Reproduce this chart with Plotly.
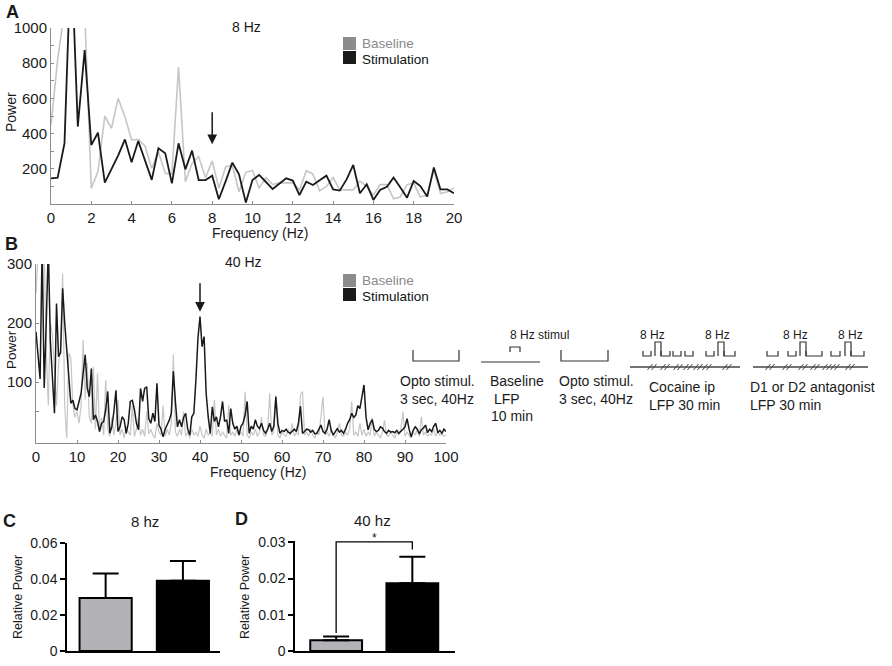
import plotly.graph_objects as go

# ---------------- data ----------------
freq_a = [0, 0.33, 0.67, 1, 1.33, 1.67, 2, 2.33, 2.67, 3,
          3.33, 3.67, 4, 4.33, 4.67, 5, 5.33, 5.67, 6, 6.33,
          6.67, 7, 7.33, 7.67, 8, 8.33, 8.67, 9, 9.33, 9.67,
          10, 10.33, 10.67, 11, 11.33, 11.67, 12, 12.33, 12.67, 13,
          13.33, 13.67, 14, 14.33, 14.67, 15, 15.33, 15.67, 16, 16.33,
          16.67, 17, 17.33, 17.67, 18, 18.33, 18.67, 19, 19.33, 19.67,
          20]
baseline_a = [450, 820, 1100, 1400, 1300, 1100, 89, 184, 500, 430,
              600, 496, 364, 367, 328, 203, 297, 174, 170, 776,
              127, 230, 269, 150, 244, 90, 212, 220, 70, 180,
              190, 90, 150, 110, 120, 120, 120, 80, 189, 170,
              75, 100, 150, 80, 80, 80, 130, 100, 50, 110,
              110, 30, 40, 110, 120, 40, 50, 190, 60, 70,
              90]
stim_a = [146, 150, 345, 1450, 440, 875, 335, 405, 121, 195,
          275, 367, 237, 358, 250, 137, 316, 288, 117, 345,
          197, 303, 136, 136, 161, 27, 130, 235, 169, 8,
          136, 165, 125, 85, 115, 146, 133, 51, 127, 108,
          135, 161, 83, 76, 140, 222, 61, 112, 23, 80,
          98, 150, 95, 36, 131, 102, 42, 208, 83, 83,
          61]

freq_b = [0, 0.5, 1, 1.5, 2, 2.5, 3, 3.5, 4, 4.5,
          5, 5.5, 6, 6.5, 7, 7.5, 8, 8.5, 9, 9.5,
          10, 10.5, 11, 11.5, 12, 12.5, 13, 13.5, 14, 14.5,
          15, 15.5, 16, 16.5, 17, 17.5, 18, 18.5, 19, 19.5,
          20, 20.5, 21, 21.5, 22, 22.5, 23, 23.5, 24, 24.5,
          25, 25.5, 26, 26.5, 27, 27.5, 28, 28.5, 29, 29.5,
          30, 30.5, 31, 31.5, 32, 32.5, 33, 33.5, 34, 34.5,
          35, 35.5, 36, 36.5, 37, 37.5, 38, 38.5, 39, 39.5,
          40, 40.5, 41, 41.5, 42, 42.5, 43, 43.5, 44, 44.5,
          45, 45.5, 46, 46.5, 47, 47.5, 48, 48.5, 49, 49.5,
          50, 50.5, 51, 51.5, 52, 52.5, 53, 53.5, 54, 54.5,
          55, 55.5, 56, 56.5, 57, 57.5, 58, 58.5, 59, 59.5,
          60, 60.5, 61, 61.5, 62, 62.5, 63, 63.5, 64, 64.5,
          65, 65.5, 66, 66.5, 67, 67.5, 68, 68.5, 69, 69.5,
          70, 70.5, 71, 71.5, 72, 72.5, 73, 73.5, 74, 74.5,
          75, 75.5, 76, 76.5, 77, 77.5, 78, 78.5, 79, 79.5,
          80, 80.5, 81, 81.5, 82, 82.5, 83, 83.5, 84, 84.5,
          85, 85.5, 86, 86.5, 87, 87.5, 88, 88.5, 89, 89.5,
          90, 90.5, 91, 91.5, 92, 92.5, 93, 93.5, 94, 94.5,
          95, 95.5, 96, 96.5, 97, 97.5, 98, 98.5, 99, 99.5,
          100]
baseline_b = [250, 320, 330, 340, 320, 150, 60, 200, 180, 120,
              60, 130, 160, 284, 60, 5, 149, 140, 60, 40,
              50, 30, 60, 171, 70, 132, 40, 30, 126, 20,
              115, 15, 40, 10, 103, 20, 8, 40, 10, 30,
              69, 10, 20, 5, 25, 15, 10, 60, 8, 20,
              40, 10, 20, 8, 50, 12, 20, 10, 5, 30,
              15, 10, 60, 8, 20, 10, 30, 146, 15, 8,
              20, 10, 50, 8, 15, 5, 20, 10, 15, 8,
              25, 10, 5, 20, 10, 15, 8, 70, 10, 20,
              8, 15, 10, 5, 60, 10, 15, 8, 20, 10,
              15, 8, 84, 10, 5, 15, 10, 20, 8, 15,
              40, 10, 8, 20, 81, 10, 15, 78, 10, 5,
              15, 10, 8, 20, 10, 30, 8, 15, 10, 78,
              84, 10, 15, 8, 20, 10, 5, 15, 10, 40,
              75, 10, 15, 8, 20, 10, 5, 15, 30, 10,
              8, 15, 10, 20, 67, 10, 15, 8, 30, 10,
              20, 8, 15, 10, 40, 8, 15, 10, 5, 15,
              35, 10, 8, 15, 10, 5, 15, 10, 20, 50,
              8, 15, 10, 5, 15, 10, 20, 8, 41, 10,
              15, 8, 12, 10, 20, 8, 15, 10, 12, 8,
              10]
stim_b = [185, 140, 105, 330, 90, 200, 330, 170, 103, 47,
          233, 143, 150, 259, 200, 149, 110, 64, 69, 55,
          53, 70, 81, 115, 146, 90, 75, 123, 36, 44,
          33, 16, 30, 33, 53, 84, 13, 24, 50, 86,
          16, 24, 41, 36, 13, 30, 67, 69, 53, 30,
          19, 89, 67, 89, 92, 38, 30, 47, 33, 98,
          27, 20, 7, 20, 27, 35, 47, 118, 67, 24,
          36, 24, 40, 47, 20, 10, 41, 47, 103, 174,
          211, 160, 177, 81, 41, 13, 58, 33, 41, 24,
          41, 67, 33, 36, 13, 55, 30, 20, 25, 10,
          25, 30, 44, 67, 13, 25, 20, 36, 25, 21,
          30, 18, 13, 20, 30, 16, 25, 75, 30, 13,
          18, 16, 20, 15, 13, 16, 20, 16, 30, 59,
          13, 16, 20, 19, 15, 18, 12, 13, 20, 27,
          16, 13, 20, 36, 18, 10, 16, 21, 15, 18,
          13, 20, 30, 36, 47, 40, 44, 60, 55, 75,
          95, 40, 19, 30, 36, 20, 16, 18, 24, 22,
          16, 13, 18, 15, 16, 14, 18, 13, 16, 20,
          24, 38, 20, 7, 18, 24, 20, 12, 19, 22,
          27, 14, 20, 16, 25, 30, 14, 18, 13, 20,
          16]

groups = ["Baseline", "Stimulation"]
group_pos = [0, 1]
rel_8hz = [0.0295, 0.039]
rel_8hz_sem = [0.0135, 0.011]
rel_40hz = [0.003, 0.0187]
rel_40hz_sem = [0.001, 0.0073]
sig_x = [0, 0, 1, 1]
sig_y = [0.005, 0.0301, 0.0301, 0.028]

ticks_a_x = [0, 2, 4, 6, 8, 10, 12, 14, 16, 18, 20]
ticks_a_y = [200, 400, 600, 800, 1000]
minor_a_y = [100, 300, 500, 700, 900]
ticks_b_x = [0, 10, 20, 30, 40, 50, 60, 70, 80, 90, 100]
ticks_b_y = [100, 200, 300]
minor_b_y = [50]
ticks_c_y = [0, 0.02, 0.04, 0.06]
ticktext_c_y = ["0", "0.02", "0.04", "0.06"]
ticks_d_y = [0, 0.01, 0.02, 0.03]
ticktext_d_y = ["0", "0.01", "0.02", "0.03"]

# ---------------- style ----------------
FONT = "Liberation Sans, Arial, sans-serif"
W, H = 892, 666
LIGHT = "#c6c6c6"
DARK = "#1a1a1a"
BAR_GRAY = "#b3b3b7"
AXGRAY = "#8c8c8c"


def px(x):
    return x / W


def py(y):
    return 1 - y / H


fig = go.Figure()

# Panel A
fig.add_trace(go.Scatter(x=freq_a, y=baseline_a, xaxis="x", yaxis="y", mode="lines",
                         line=dict(color=LIGHT, width=1.6), name=groups[0],
                         showlegend=False, hoverinfo="skip"))
fig.add_trace(go.Scatter(x=freq_a, y=stim_a, xaxis="x", yaxis="y", mode="lines",
                         line=dict(color=DARK, width=1.8), name=groups[1],
                         showlegend=False, hoverinfo="skip"))
# Panel B
fig.add_trace(go.Scatter(x=freq_b, y=baseline_b, xaxis="x2", yaxis="y2", mode="lines",
                         line=dict(color=LIGHT, width=1.2), name=groups[0],
                         showlegend=False, hoverinfo="skip"))
fig.add_trace(go.Scatter(x=freq_b, y=stim_b, xaxis="x2", yaxis="y2", mode="lines",
                         line=dict(color=DARK, width=1.5), name=groups[1],
                         showlegend=False, hoverinfo="skip"))
# Panel C
fig.add_trace(go.Bar(x=group_pos, y=rel_8hz, xaxis="x3", yaxis="y3", width=0.675,
                     marker=dict(color=[BAR_GRAY, "black"], line=dict(color="black", width=2)),
                     error_y=dict(type="data", array=rel_8hz_sem, arrayminus=[0, 0],
                                  symmetric=False, color="black", thickness=2, width=13),
                     showlegend=False, hovertext=groups))
# Panel D
fig.add_trace(go.Bar(x=group_pos, y=rel_40hz, xaxis="x4", yaxis="y4", width=0.68,
                     marker=dict(color=[BAR_GRAY, "black"], line=dict(color="black", width=2)),
                     error_y=dict(type="data", array=rel_40hz_sem, arrayminus=[0, 0],
                                  symmetric=False, color="black", thickness=2, width=13),
                     showlegend=False, hovertext=groups))
fig.add_trace(go.Scatter(x=sig_x, y=sig_y, xaxis="x4", yaxis="y4", mode="lines",
                         line=dict(color="black", width=1.3), showlegend=False,
                         hoverinfo="skip", cliponaxis=False))

ab_common = dict(showgrid=False, zeroline=False, showline=True, linecolor=AXGRAY,
                 linewidth=1, ticks="inside", ticklen=3, tickcolor=AXGRAY,
                 automargin=False,
                 tickfont=dict(family=FONT, size=15, color="#1a1a1a"))
cd_common = dict(showgrid=False, zeroline=False, showline=True, linecolor="black",
                 linewidth=1.5, automargin=False)

fig.update_layout(
    width=W, height=H, margin=dict(l=0, r=0, t=0, b=0, pad=0, autoexpand=False),
    paper_bgcolor="white", plot_bgcolor="white",
    font=dict(family=FONT, color="#1a1a1a"),
    xaxis=dict(domain=[px(51), px(454)], range=[0, 20], anchor="y",
               tickvals=ticks_a_x, **ab_common),
    yaxis=dict(domain=[py(204), py(28)], range=[0, 1000], anchor="x",
               tickvals=ticks_a_y,
               minor=dict(tickvals=minor_a_y, ticks="inside", ticklen=3, tickcolor=AXGRAY),
               **ab_common),
    xaxis2=dict(domain=[px(36), px(446)], range=[0, 100], anchor="y2",
                tickvals=ticks_b_x, **ab_common),
    yaxis2=dict(domain=[py(443), py(264)], range=[-3.4, 300], anchor="x2",
                tickvals=ticks_b_y,
                minor=dict(tickvals=minor_b_y, ticks="inside", ticklen=3, tickcolor=AXGRAY),
                **ab_common),
    xaxis3=dict(domain=[px(67), px(220)], range=[-0.5, 1.48], anchor="y3",
                showticklabels=False, ticks="", **cd_common),
    yaxis3=dict(domain=[py(651), py(543)], range=[0, 0.06], anchor="x3",
                tickvals=ticks_c_y, ticktext=ticktext_c_y, ticks="outside", ticklen=5,
                tickwidth=1.5, tickcolor="black",
                tickfont=dict(family=FONT, size=14, color="#1a1a1a"), **cd_common),
    xaxis4=dict(domain=[px(295), px(455)], range=[-0.54, 1.56], anchor="y4",
                showticklabels=False, ticks="", **cd_common),
    yaxis4=dict(domain=[py(651), py(541)], range=[0, 0.03035], anchor="x4",
                tickvals=ticks_d_y, ticktext=ticktext_d_y, ticks="outside", ticklen=5,
                tickwidth=1.5, tickcolor="black",
                tickfont=dict(family=FONT, size=14, color="#1a1a1a"), **cd_common),
)

annotations = []


def ann(text, x, y, size=14, xanchor="center", color="#1a1a1a", bold=False, angle=0):
    if bold:
        text = "<b>" + text + "</b>"
    annotations.append(dict(text=text, x=px(x), y=py(y), xref="paper", yref="paper",
                            xanchor=xanchor, yanchor="middle", showarrow=False,
                            textangle=angle, font=dict(family=FONT, size=size, color=color)))


# panel letters
ann("A", 12, 12, size=18, bold=True)
ann("B", 11, 244, size=18, bold=True)
ann("C", 9, 521, size=18, bold=True)
ann("D", 241, 519, size=18, bold=True)
# titles
ann("8 Hz", 246, 27, size=14)
ann("40 Hz", 243, 262, size=14)
ann("8 hz", 145, 521, size=15)
ann("40 hz", 372, 520, size=15)
# axis titles
ann("Power", 11, 112, size=14, angle=-90)
ann("Power", 11, 350, size=13.5, angle=-90)
ann("Frequency (Hz)", 260, 233, size=14)
ann("Frequency (Hz)", 258, 472, size=14)
ann("Relative Power", 18, 597, size=12.5, angle=-90)
ann("Relative Power", 245, 597, size=12.5, angle=-90)
# legends
for yb, ys in [(43, 59), (280, 296)]:
    ann("Baseline", 360, yb, size=13.5, xanchor="left", color="#8a8a8a")
    ann("Stimulation", 360, ys, size=13.5, xanchor="left", color="#111111")
# timeline diagram texts
ann("Opto stimul.", 398, 381, size=14, xanchor="left")
ann("3 sec, 40Hz", 398, 399, size=14, xanchor="left")
ann("8 Hz stimul", 539, 335, size=12)
ann("Baseline", 488, 381, size=14, xanchor="left")
ann("LFP", 492, 399, size=14, xanchor="left")
ann("10 min", 489, 416, size=14, xanchor="left")
ann("Opto stimul.", 557, 381, size=14, xanchor="left")
ann("3 sec, 40Hz", 557, 399, size=14, xanchor="left")
for xc in [652, 717, 795, 850]:
    ann("8 Hz", xc, 335, size=12)
ann("Cocaine ip", 647, 387, size=14, xanchor="left")
ann("LFP 30 min", 647, 405, size=14, xanchor="left")
ann("D1 or D2 antagonist", 748, 387, size=14, xanchor="left")
ann("LFP 30 min", 748, 405, size=14, xanchor="left")

# significance star (x on the bar axis, y in page space just above the bracket)
annotations.append(dict(text="*", x=0.5, y=py(538), xref="x4", yref="paper",
                        xanchor="center", yanchor="middle", showarrow=False,
                        font=dict(family=FONT, size=12, color="#1a1a1a")))
# arrows
annotations.append(dict(text="", x=8, y=340, xref="x", yref="y", ax=8, ay=530,
                        axref="x", ayref="y", showarrow=True, arrowhead=2, arrowsize=1.3,
                        arrowwidth=1.5, arrowcolor=DARK))
annotations.append(dict(text="", x=40, y=219, xref="x2", yref="y2", ax=40, ay=270,
                        axref="x2", ayref="y2", showarrow=True, arrowhead=2, arrowsize=1.3,
                        arrowwidth=1.5, arrowcolor=DARK))

shapes = []


def path(points_cmds, color="#333333", width=1.2):
    s = ""
    for c, x, y in points_cmds:
        s += f"{c}{px(x):.5f},{py(y):.5f} "
    shapes.append(dict(type="path", path=s.strip(), xref="paper", yref="paper",
                       line=dict(color=color, width=width)))


def cup(x0, x1, top, bot, color="#333333", width=1.2):
    path([("M", x0, top), ("L", x0, bot), ("L", x1, bot), ("L", x1, top)], color, width)


def cap(x0, x1, top, bot, color="#333333", width=1.2):
    path([("M", x0, bot), ("L", x0, top), ("L", x1, top), ("L", x1, bot)], color, width)


def hline(x0, x1, y, color="#333333", width=1.2):
    path([("M", x0, y), ("L", x1, y)], color, width)


# legend squares
for y0 in [37, 274]:
    shapes.append(dict(type="rect", xref="paper", yref="paper", x0=px(343), x1=px(356),
                       y0=py(y0 + 13), y1=py(y0), fillcolor="#8c8c8c", line=dict(width=0)))
    shapes.append(dict(type="rect", xref="paper", yref="paper", x0=px(343), x1=px(356),
                       y0=py(y0 + 27), y1=py(y0 + 14), fillcolor="#1a1a1a", line=dict(width=0)))

# opto brackets / baseline line
cup(413, 459, 350, 361)
hline(481, 540, 362)
cap(510, 520, 347, 352)
cup(561, 608, 350, 361)

# cocaine block
hline(630, 740, 367, color="#444444", width=1.5)
for xc in [652, 665, 678, 688, 698, 707, 727]:
    for d in (-2, 2):
        path([("M", xc + d - 2.5, 370), ("L", xc + d + 2.5, 364)], "#444444", 1)
for a, b in [(643, 651), (661, 670), (673, 681), (685, 693), (706, 714), (724, 735)]:
    cup(a, b, 351, 356)
for a, b in [(655, 661), (718, 724)]:
    cap(a, b, 342, 356)

# antagonist block
hline(753, 868, 367, color="#444444", width=1.5)
for xc in [770, 787, 803, 815, 827, 835, 850]:
    for d in (-2, 2):
        path([("M", xc + d - 2.5, 370), ("L", xc + d + 2.5, 364)], "#444444", 1)
for a, b in [(767, 778), (788, 796), (806, 822), (831, 840), (851, 864)]:
    cup(a, b, 351, 356)
for a, b in [(800, 806), (845, 851)]:
    cap(a, b, 342, 356)

fig.update_layout(annotations=annotations, shapes=shapes)

fig.write_html("out.html", config={"displayModeBar": False},
               post_script="document.body.style.margin='0px';document.body.style.padding='0px';")
